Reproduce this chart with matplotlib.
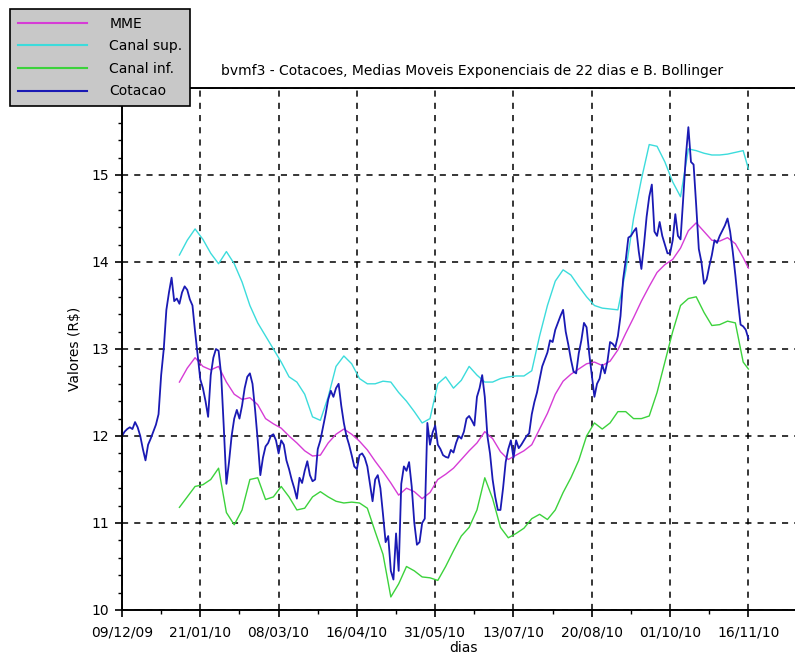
import numpy as np
import matplotlib
matplotlib.use("Agg")
import matplotlib.pyplot as plt
from matplotlib.lines import Line2D

# tick labels (dates every 30 trading days)
date_labels = ["09/12/09", "21/01/10", "08/03/10", "16/04/10", "31/05/10",
               "13/07/10", "20/08/10", "01/10/10", "16/11/10"]

# closing price, one value per trading day (day 0 .. 240)
cotacao = [
    12.00, 12.05, 12.08, 12.10, 12.08, 12.16, 12.10, 12.00, 11.85, 11.72,
    11.90, 11.97, 12.05, 12.13, 12.25, 12.70, 13.00, 13.45, 13.65, 13.82,
    13.55, 13.58, 13.52, 13.65, 13.72, 13.68, 13.57, 13.50, 13.20, 12.93,
    12.65, 12.55, 12.40, 12.22, 12.70, 12.90, 13.00, 12.98, 12.70, 12.10,
    11.45, 11.70, 12.00, 12.20, 12.30, 12.20, 12.35, 12.55, 12.68, 12.72,
    12.60, 12.30, 11.95, 11.55, 11.75, 11.88, 11.92, 12.00, 12.02, 11.95,
    11.80, 11.95, 11.90, 11.72, 11.62, 11.50, 11.40, 11.28, 11.52, 11.46,
    11.60, 11.71, 11.55, 11.48, 11.50, 11.85, 11.95, 12.10, 12.25, 12.42,
    12.52, 12.45, 12.55, 12.60, 12.35, 12.15, 12.00, 11.90, 11.78, 11.65,
    11.62, 11.78, 11.80, 11.75, 11.65, 11.45, 11.25, 11.50, 11.55, 11.40,
    11.10, 10.78, 10.85, 10.45, 10.35, 10.88, 10.45, 11.45, 11.65, 11.60,
    11.70, 11.42, 11.00, 10.75, 10.78, 11.00, 11.05, 12.15, 11.90, 12.04,
    12.12, 11.90, 11.85, 11.78, 11.76, 11.75, 11.84, 11.81, 11.92, 12.00,
    11.97, 12.05, 12.20, 12.23, 12.18, 12.12, 12.45, 12.55, 12.70, 12.45,
    12.00, 11.80, 11.50, 11.30, 11.15, 11.15, 11.40, 11.70, 11.85, 11.95,
    11.75, 11.95, 11.86, 11.90, 11.95, 12.00, 12.03, 12.25, 12.39, 12.50,
    12.65, 12.80, 12.88, 12.96, 13.10, 13.08, 13.22, 13.30, 13.38, 13.45,
    13.20, 13.05, 12.88, 12.74, 12.72, 12.95, 13.10, 13.30, 13.25, 12.95,
    12.70, 12.45, 12.60, 12.66, 12.82, 12.72, 12.86, 13.08, 13.06, 13.02,
    13.15, 13.38, 13.80, 14.02, 14.28, 14.30, 14.35, 14.39, 14.12, 13.92,
    14.20, 14.52, 14.75, 14.89, 14.35, 14.30, 14.46, 14.30, 14.20, 14.10,
    14.10, 14.25, 14.55, 14.30, 14.26, 14.72, 15.20, 15.55, 15.15, 15.12,
    14.65, 14.15, 14.00, 13.75, 13.80, 13.95, 14.08, 14.25, 14.22, 14.30,
    14.36, 14.42, 14.50, 14.35, 14.12, 13.85, 13.55, 13.28, 13.26, 13.22,
    13.12,
]

# days at which the averages / bands were read
band_days = list(range(22, 239, 3)) + [240]

mme = [
    12.62, 12.78, 12.90, 12.80, 12.76, 12.80, 12.62, 12.48, 12.42, 12.44,
    12.36, 12.20, 12.14, 12.09, 12.00, 11.92, 11.83, 11.77, 11.78, 11.92,
    12.02, 12.08, 12.02, 11.94, 11.84, 11.71, 11.59, 11.46, 11.32, 11.40,
    11.36, 11.28, 11.35, 11.50, 11.56, 11.63, 11.73, 11.83, 11.92, 12.05,
    11.97, 11.82, 11.73, 11.78, 11.83, 11.90, 12.08, 12.26, 12.48, 12.63,
    12.71, 12.77, 12.83, 12.85, 12.81, 12.86, 12.99, 13.18, 13.36, 13.55,
    13.72, 13.88, 13.97, 14.03, 14.16, 14.36, 14.45, 14.35, 14.25, 14.24,
    14.28, 14.21, 14.05, 13.93,
]

canal_sup = [
    14.08, 14.25, 14.38, 14.26, 14.10, 13.98, 14.12, 13.98, 13.77, 13.50,
    13.30, 13.15, 13.00, 12.85, 12.68, 12.62, 12.48, 12.22, 12.18, 12.45,
    12.80, 12.92, 12.83, 12.66, 12.60, 12.60, 12.63, 12.62, 12.50, 12.40,
    12.28, 12.15, 12.20, 12.60, 12.68, 12.55, 12.64, 12.80, 12.70, 12.62,
    12.62, 12.66, 12.68, 12.69, 12.69, 12.75, 13.15, 13.50, 13.78, 13.91,
    13.85, 13.72, 13.60, 13.50, 13.47, 13.46, 13.45, 13.90, 14.50, 14.95,
    15.35, 15.33, 15.15, 14.92, 14.75, 15.30, 15.28, 15.25, 15.23, 15.23,
    15.24, 15.26, 15.28, 15.07,
]

canal_inf = [
    11.18, 11.30, 11.42, 11.44, 11.50, 11.63, 11.12, 10.98, 11.15, 11.50,
    11.52, 11.27, 11.30, 11.42, 11.30, 11.15, 11.17, 11.30, 11.36, 11.30,
    11.25, 11.23, 11.24, 11.23, 11.17, 10.90, 10.64, 10.15, 10.30, 10.50,
    10.45, 10.38, 10.37, 10.34, 10.50, 10.68, 10.85, 10.95, 11.15, 11.52,
    11.28, 10.95, 10.83, 10.88, 10.94, 11.05, 11.10, 11.04, 11.15, 11.35,
    11.52, 11.72, 12.00, 12.15, 12.08, 12.15, 12.28, 12.28, 12.20, 12.20,
    12.23, 12.50, 12.85, 13.20, 13.50, 13.58, 13.60, 13.42, 13.27, 13.28,
    13.32, 13.30, 12.85, 12.77,
]

c_mme = "#d63cd6"
c_sup = "#3cdcdc"
c_inf = "#3cd23c"
c_cot = "#1a1ab4"

W, H = 795, 654
fig = plt.figure(figsize=(W / 100, H / 100), dpi=100)
fig.patch.set_facecolor("white")

# axes box in pixels: left 122, bottom 610, top 88; right runs off the picture
x0, xb, yt = 122, 610, 88
xmax = 270
px_per_day = 2.61
ax = fig.add_axes([x0 / W, (H - xb) / H, xmax * px_per_day / W, (xb - yt) / H])

days = np.arange(len(cotacao))
ax.plot(band_days, mme, color=c_mme, lw=1.0)
ax.plot(band_days, canal_sup, color=c_sup, lw=1.0)
ax.plot(band_days, canal_inf, color=c_inf, lw=1.0)
ax.plot(days, cotacao, color=c_cot, lw=1.3)

ax.set_xlim(0, xmax)
ax.set_ylim(10, 16)

ax.set_xticks(np.arange(0, 241, 30))
ax.set_xticklabels(date_labels)
ax.set_xticks(np.arange(15, 241, 30), minor=True)
ax.set_yticks(np.arange(10, 17, 1))
# the "16" label sits under the legend box in the reference
ax.set_yticklabels([str(v) for v in range(10, 16)] + [""])
ax.set_yticks(np.arange(10, 16.01, 0.2), minor=True)

ax.tick_params(axis="both", which="major", direction="out", length=5,
               width=1.2, labelsize=10, colors="black")
ax.tick_params(axis="both", which="minor", direction="out", length=3,
               width=1.0)
ax.tick_params(axis="x", which="major", pad=6)
ax.tick_params(axis="y", which="major", pad=4)

ax.grid(True, which="major", color="black", linestyle=(0, (4, 4)), lw=1.1)
for side in ["left", "bottom", "top"]:
    ax.spines[side].set_linewidth(1.4)
ax.spines["right"].set_visible(False)

fig.text(472 / W, 1 - 71 / H,
         "bvmf3 - Cotacoes, Medias Moveis Exponenciais de 22 dias e B. Bollinger",
         ha="center", va="center", fontsize=10)
fig.text(463 / W, 1 - 648 / H, "dias", ha="center", va="center", fontsize=10)
fig.text(75 / W, 1 - 349 / H, "Valores (R$)", ha="center", va="center",
         rotation=90, fontsize=10)

handles = [Line2D([], [], color=c_mme, lw=1.5),
           Line2D([], [], color=c_sup, lw=1.5),
           Line2D([], [], color=c_inf, lw=1.5),
           Line2D([], [], color=c_cot, lw=1.5)]
labels = ["MME", "Canal sup.", "Canal inf.", "Cotacao"]
leg = fig.legend(handles, labels, loc="upper left",
                 bbox_to_anchor=(10 / W, 1 - 9 / H), fontsize=10,
                 frameon=True, fancybox=False, facecolor="#c8c8c8",
                 edgecolor="black", framealpha=1.0, handlelength=5.0,
                 handletextpad=1.6, labelspacing=0.62, borderpad=0.55,
                 borderaxespad=0)
leg.get_frame().set_linewidth(1.2)

fig.savefig("out.png", dpi=100)
